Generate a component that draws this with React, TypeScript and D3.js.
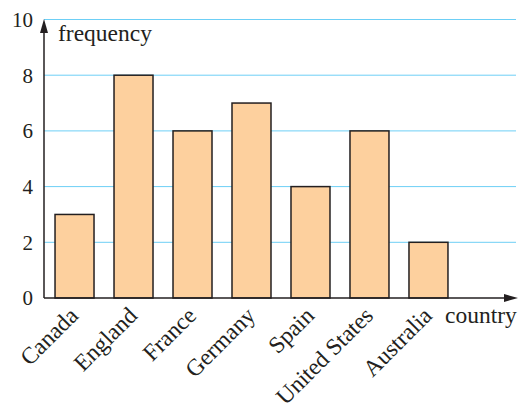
import React from "react";
import * as d3 from "d3";

const countries = ["Canada", "England", "France", "Germany", "Spain", "United States", "Australia"];
const frequencies = [3, 8, 6, 7, 4, 6, 2];
const yTicks = [0, 2, 4, 6, 8, 10];

export default function App() {
  const W = 525, H = 403;
  const x0 = 44, y0 = 298;
  const y = d3.scaleLinear().domain([0, 10]).range([y0, 19.5]);
  const x = d3.scaleBand<string>().domain(countries).range([45, 458]).paddingInner(0.339).paddingOuter(0.17);
  const font = "'Liberation Serif', 'Times New Roman', serif";
  const ink = "#231f20";
  return (
    <svg width={W} height={H} style={{ position: "absolute", left: 0, top: 0 }} fontFamily={font}>
      {yTicks.filter(t => t > 0).map(t => (
        <line key={t} x1={x0} x2={516} y1={y(t)} y2={y(t)} stroke="#6dcff6" strokeWidth={1} />
      ))}
      {countries.map((c, i) => (
        <rect key={c} x={x(c)} y={y(frequencies[i])} width={x.bandwidth()} height={y(0) - y(frequencies[i])}
          fill="#fdd09e" stroke={ink} strokeWidth={1.5} />
      ))}
      <line x1={x0} x2={x0} y1={y0} y2={30} stroke={ink} strokeWidth={1.5} />
      <path d={`M${x0},19 L${x0 - 4},33 L${x0 + 4},33 Z`} fill={ink} />
      <line x1={x0} x2={508} y1={y0} y2={y0} stroke={ink} strokeWidth={1.5} />
      <path d={`M518,${y0} L504,${y0 - 4} L504,${y0 + 4} Z`} fill={ink} />
      {yTicks.map(t => (
        <text key={t} x={33} y={y(t)} dy="0.35em" textAnchor="end" fontSize={21} fill={ink}>{t}</text>
      ))}
      <text x={58} y={41} fontSize={23.5} fill={ink}>frequency</text>
      <text x={445} y={323} fontSize={23.5} fill={ink}>country</text>
      {countries.map(c => {
        const cx = (x(c) ?? 0) + x.bandwidth() / 2 + 5;
        return (
          <text key={c} transform={`translate(${cx},${317}) rotate(-45)`} textAnchor="end" fontSize={23.5} fill={ink}>{c}</text>
        );
      })}
    </svg>
  );
}
